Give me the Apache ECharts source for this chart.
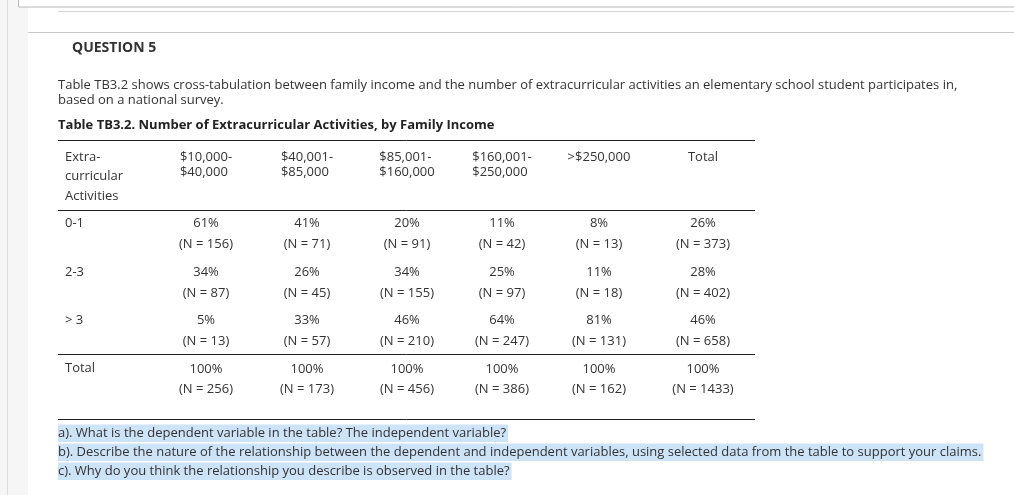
<!DOCTYPE html>
<html><head><meta charset="utf-8">
<script src="https://cdn.jsdelivr.net/npm/echarts@6/dist/echarts.min.js"></script>
<style>html,body{margin:0;padding:0;background:#fff}#c{width:1014px;height:495px}</style>
</head><body><div id="c"></div>
<script>
// ---------- data ----------
const questionTitle = 'QUESTION 5';
const introLines = [
  'Table TB3.2 shows cross-tabulation between family income and the number of extracurricular activities an elementary school student participates in,',
  'based on a national survey.'
];
const tableTitle = 'Table TB3.2. Number of Extracurricular Activities, by Family Income';
const stubHeader = ['Extra-', 'curricular', 'Activities'];
const incomeGroups = ['$10,000-\n$40,000', '$40,001-\n$85,000', '$85,001-\n$160,000', '$160,001-\n$250,000', '>$250,000', 'Total'];
const activityRows = ['0-1', '2-3', '> 3', 'Total'];
const percents = [
  [61, 41, 20, 11, 8, 26],
  [34, 26, 34, 25, 11, 28],
  [5, 33, 46, 64, 81, 46],
  [100, 100, 100, 100, 100, 100]
];
const counts = [
  [156, 71, 91, 42, 13, 373],
  [87, 45, 155, 97, 18, 402],
  [13, 57, 210, 247, 131, 658],
  [256, 173, 456, 386, 162, 1433]
];
const questions = [
  'a). What is the dependent variable in the table? The independent variable?',
  'b). Describe the nature of the relationship between the dependent and independent variables, using selected data from the table to support your claims.',
  'c). Why do you think the relationship you describe is observed in the table?'
];

// ---------- layout / style ----------
const FF = '"Open Sans", "Noto Sans", sans-serif';
const TXT = '#333333';
const fBody = '13px ' + FF;
const fBold = 'bold 13px ' + FF;
const fTable = '13px ' + FF;
const colShift = [-2, -1, -1, -6, -9, -5];
const GRID_L = 158, GRID_T = 210, COL_W = 100, ROW_H = 48.3;
const cv = document.createElement('canvas').getContext('2d');
function tw(t, f) { cv.font = f; return cv.measureText(t).width; }

const cells = [];
percents.forEach((row, r) => row.forEach((p, c) => cells.push([c, r, p, counts[r][c]])));
const headerData = incomeGroups.map((g, c) => [c, 0, g]);

const graphic = [
  { type: 'rect', shape: { x: 0, y: 0, width: 28, height: 495 }, style: { fill: '#f6f6f6' }, silent: true },
  { type: 'line', shape: { x1: 7.5, y1: 0, x2: 7.5, y2: 495 }, style: { stroke: '#dcdcdc', lineWidth: 1 } },
  { type: 'rect', shape: { x: 18.5, y: -5, width: 1000, height: 12 }, style: { fill: '#fff', stroke: '#b8b8b8', lineWidth: 1 } },
  { type: 'line', shape: { x1: 58, y1: 11.5, x2: 1014, y2: 11.5 }, style: { stroke: '#d6d6d6', lineWidth: 1 } },
  { type: 'rect', shape: { x: 28, y: 32, width: 986, height: 463 }, style: { fill: '#fff' }, silent: true },
  { type: 'line', shape: { x1: 28, y1: 32.5, x2: 1014, y2: 32.5 }, style: { stroke: '#c8c8c8', lineWidth: 1 } },
  { type: 'text', style: { x: 72, y: 48, text: questionTitle, font: 'bold 14px ' + FF, fill: TXT, textVerticalAlign: 'middle' } },
  { type: 'text', style: { x: 58, y: 85, text: introLines[0], font: fBody, fill: TXT, textVerticalAlign: 'middle' } },
  { type: 'text', style: { x: 58, y: 100, text: introLines[1], font: fBody, fill: TXT, textVerticalAlign: 'middle' } },
  { type: 'text', style: { x: 58, y: 125, text: tableTitle, font: fBold, fill: '#222', textVerticalAlign: 'middle' } },
  { type: 'line', shape: { x1: 58, y1: 140.5, x2: 755, y2: 140.5 }, style: { stroke: '#222', lineWidth: 1 } },
  { type: 'line', shape: { x1: 58, y1: 210.5, x2: 755, y2: 210.5 }, style: { stroke: '#222', lineWidth: 1 } },
  { type: 'line', shape: { x1: 58, y1: 354.5, x2: 755, y2: 354.5 }, style: { stroke: '#222', lineWidth: 1 } },
  { type: 'line', shape: { x1: 58, y1: 419.5, x2: 755, y2: 419.5 }, style: { stroke: '#222', lineWidth: 1 } }
];
stubHeader.forEach((t, i) => graphic.push({ type: 'text', style: { x: 65, y: 157 + i * 19.5, text: t, font: fTable, fill: TXT, textVerticalAlign: 'middle' } }));
const qY = [433, 452, 471];
questions.forEach((q, i) => {
  graphic.push({ type: 'rect', shape: { x: 58, y: qY[i] - 8.5, width: tw(q, fBody) + 2, height: 17.5 }, style: { fill: '#cde3f8' } });
  graphic.push({ type: 'text', style: { x: 58, y: qY[i], text: q, font: fBody, fill: TXT, textVerticalAlign: 'middle' } });
});

const chart = echarts.init(document.getElementById('c'), null, { renderer: 'canvas' });
chart.setOption({
  animation: false,
  backgroundColor: '#fff',
  graphic: graphic,
  grid: { left: GRID_L, top: GRID_T, width: COL_W * incomeGroups.length, height: ROW_H * activityRows.length },
  xAxis: { type: 'category', data: incomeGroups, show: false },
  yAxis: {
    type: 'category', data: activityRows, inverse: true,
    axisLine: { show: false }, axisTick: { show: false }, splitLine: { show: false },
    axisLabel: { align: 'left', margin: GRID_L - 65, color: TXT, fontFamily: FF, fontSize: 13, verticalAlign: 'bottom', lineHeight: 21 }
  },
  series: [
    {
      type: 'custom', data: cells, silent: true,
      renderItem(params, api) {
        const c = api.value(0), r = api.value(1);
        const p = api.coord([c, r]);
        const x = p[0] + colShift[c];
        const gap = r === 3 ? 10 : 10.5;
        return { type: 'group', children: [
          { type: 'text', style: { x, y: p[1] - gap, text: api.value(2) + '%', font: fTable, fill: TXT, textAlign: 'center', textVerticalAlign: 'middle' } },
          { type: 'text', style: { x, y: p[1] + gap, text: '(N = ' + api.value(3) + ')', font: fTable, fill: TXT, textAlign: 'center', textVerticalAlign: 'middle' } }
        ] };
      }
    },
    {
      type: 'custom', data: headerData, silent: true,
      renderItem(params, api) {
        const c = params.dataIndex;
        const label = incomeGroups[c];
        const lines = label.split('\n');
        const w = Math.max.apply(null, lines.map(l => tw(l, fTable)));
        const p = api.coord([c, 0]);
        const x = p[0] + colShift[c] - w / 2;
        return { type: 'group', children: lines.map((l, i) => ({
          type: 'text', style: { x, y: 157 + i * 15, text: l, font: fTable, fill: TXT, textVerticalAlign: 'middle' }
        })) };
      }
    }
  ]
});
</script></body></html>
